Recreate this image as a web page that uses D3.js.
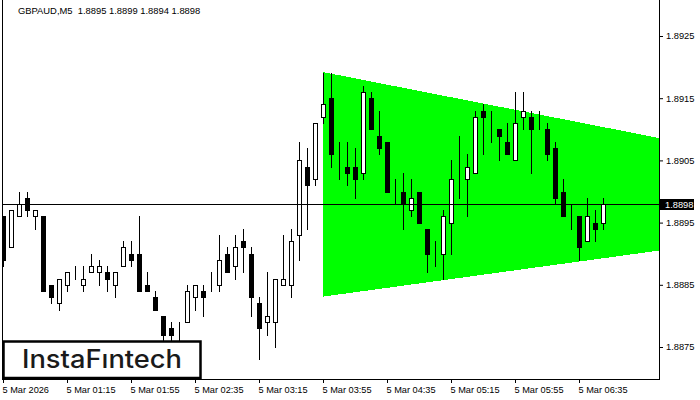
<!DOCTYPE html>
<html><head><meta charset="utf-8">
<script src="https://cdn.jsdelivr.net/npm/d3@7"></script>
<style>html,body{margin:0;padding:0;background:#fff;overflow:hidden}</style>
</head><body>
<svg id="c" width="700" height="400"></svg>
<script>
const headerText = "GBPAUD,M5  1.8895 1.8899 1.8894 1.8898";
const opens  = [1.8896,1.8891,1.8896,1.8899,1.8896,1.8896,1.8885,1.8882,1.8885,1.8886,
                1.8885,1.8887,1.8887,1.8887,1.8885,1.8888,1.8890,1.8890,1.8885,1.8883,
                1.8880,1.8878,1.8878,1.8879,1.8883,1.8884,1.8884,1.8885,1.8890,1.8888,
                1.8892,1.8890,1.8882,1.8879,1.8879,1.8885,1.8885,1.8893,1.8904,1.8902,
                1.8912,1.8915,1.8905,1.8904,1.8904,1.8903,1.8915,1.8909,1.8908,1.8901,
                1.8900,1.8897,1.8900,1.8894,1.8889,1.8890,1.8895,1.8901,1.8902,1.8903,
                1.8913,1.8911,1.8910,1.8908,1.8905,1.8912,1.8912,1.8911,1.8910,1.8907,
                1.8900,1.8897,1.8896,1.8892,1.8895,1.8895];
const highs  = [1.8896,1.8897,1.8900,1.8900,1.8897,1.8896,1.8885,1.8886,1.8887,1.8888,
                1.8888,1.8890,1.8889,1.8888,1.8887,1.8892,1.8892,1.8896,1.8887,1.8884,
                1.8880,1.8879,1.8879,1.8885,1.8885,1.8885,1.8887,1.8893,1.8891,1.8893,
                1.8894,1.8891,1.8883,1.8887,1.8886,1.8893,1.8894,1.8908,1.8907,1.8911,
                1.8919,1.8919,1.8908,1.8908,1.8907,1.8917,1.8916,1.8913,1.8908,1.8902,
                1.8903,1.8902,1.8900,1.8894,1.8892,1.8897,1.8905,1.8909,1.8906,1.8913,
                1.8914,1.8913,1.8910,1.8911,1.8916,1.8916,1.8913,1.8913,1.8911,1.8908,
                1.8902,1.8898,1.8896,1.8899,1.8897,1.8899];
const lows   = [1.8888,1.8891,1.8896,1.8896,1.8894,1.8884,1.8882,1.8881,1.8884,1.8886,
                1.8884,1.8887,1.8885,1.8884,1.8883,1.8888,1.8888,1.8884,1.8884,1.8881,
                1.8876,1.8876,1.8876,1.8879,1.8881,1.8880,1.8884,1.8884,1.8887,1.8886,
                1.8887,1.8880,1.8873,1.8877,1.8875,1.8885,1.8883,1.8889,1.8894,1.8901,
                1.8911,1.8904,1.8902,1.8901,1.8899,1.8902,1.8910,1.8906,1.8900,1.8898,
                1.8894,1.8896,1.8895,1.8887,1.8888,1.8886,1.8890,1.8899,1.8896,1.8903,
                1.8906,1.8908,1.8905,1.8906,1.8905,1.8910,1.8903,1.8910,1.8905,1.8898,
                1.8896,1.8894,1.8889,1.8892,1.8892,1.8894];
const closes = [1.8889,1.8897,1.8898,1.8897,1.8897,1.8884,1.8883,1.8886,1.8887,1.8886,
                1.8886,1.8888,1.8888,1.8886,1.8887,1.8891,1.8889,1.8884,1.8884,1.8881,
                1.8877,1.8877,1.8878,1.8884,1.8885,1.8883,1.8884,1.8889,1.8887,1.8891,
                1.8891,1.8883,1.8878,1.8880,1.8886,1.8886,1.8892,1.8905,1.8901,1.8911,
                1.8914,1.8906,1.8905,1.8903,1.8902,1.8916,1.8910,1.8907,1.8900,1.8901,
                1.8898,1.8899,1.8895,1.8890,1.8889,1.8896,1.8902,1.8901,1.8904,1.8912,
                1.8912,1.8911,1.8909,1.8906,1.8911,1.8913,1.8910,1.8911,1.8906,1.8899,
                1.8896,1.8897,1.8891,1.8896,1.8894,1.8898];
const xTickIndex  = [0, 8, 16, 24, 32, 40, 48, 56, 64, 72];
const xTickLabels = ["5 Mar 2026","5 Mar 01:15","5 Mar 01:55","5 Mar 02:35","5 Mar 03:15",
                     "5 Mar 03:55","5 Mar 04:35","5 Mar 05:15","5 Mar 05:55","5 Mar 06:35"];
const yTicks = [1.8925, 1.8915, 1.8905, 1.8895, 1.8885, 1.8875];
const bidPrice = 1.8898;
const triangleIdx = [40, 82];
const triangleTop = [1.89192, 1.89086];
const triangleBottom = [1.88831, 1.88905];
const logoText = "InstaFıntech";

const svg = d3.select("#c");
const L = 2, R = 659, T = 0, B = 379;
const x = d3.scaleLinear().domain([0, 82]).range([3, 659]);
const y = d3.scaleLinear().domain([1.8875, 1.8925]).range([347, 36]);
const font = "Tahoma, 'Liberation Sans', Arial, sans-serif";

svg.append("defs").append("clipPath").attr("id","plot")
  .append("rect").attr("x", L + 1).attr("y", T).attr("width", R - L - 1).attr("height", B - T);

const plot = svg.append("g").attr("clip-path","url(#plot)");

// triangle pattern
const tri = [
  [x(triangleIdx[0]), y(triangleTop[0])],
  [x(triangleIdx[1]), y(triangleTop[1])],
  [x(triangleIdx[1]), y(triangleBottom[1])],
  [x(triangleIdx[0]), y(triangleBottom[0])]
];
plot.append("polygon").attr("points", tri.map(p => p.join(",")).join(" "))
  .attr("fill", "#00ff00").attr("shape-rendering","crispEdges");

const data = opens.map((o, i) => ({i, o, h: highs[i], l: lows[i], c: closes[i]}));
const cx = d => Math.round(x(d.i)) + 0.5;

const g = plot.append("g").attr("shape-rendering","crispEdges");
g.selectAll("line.w").data(data).join("line").attr("class","w")
  .attr("x1", cx).attr("x2", cx)
  .attr("y1", d => Math.round(y(d.h))).attr("y2", d => Math.round(y(d.l)) + 1)
  .attr("stroke", "#000").attr("stroke-width", 1);
g.selectAll("rect.b").data(data).join("rect").attr("class","b")
  .attr("x", d => cx(d) - 2)
  .attr("y", d => Math.round(y(Math.max(d.o, d.c))) + 0.5)
  .attr("width", 4)
  .attr("height", d => Math.max(0, Math.round(y(Math.min(d.o, d.c))) - Math.round(y(Math.max(d.o, d.c)))))
  .attr("fill", d => d.c >= d.o ? "#fff" : "#000")
  .attr("stroke", "#000").attr("stroke-width", 1);

// bid line
const by = Math.round(y(bidPrice)) + 0.5;
plot.append("line").attr("x1", L).attr("x2", R).attr("y1", by).attr("y2", by)
  .attr("stroke", "#000").attr("stroke-width", 1);

// logo
svg.append("rect").attr("x", 3.5).attr("y", 341.5).attr("width", 197).attr("height", 36.5)
  .attr("fill", "#fff").attr("stroke", "#000").attr("stroke-width", 2.5);
svg.append("text").attr("x", 22).attr("y", 367.5).text(logoText)
  .attr("font-family", "Inter, Lato, sans-serif").attr("font-weight", 500)
  .attr("font-size", 25).attr("fill", "#1a1a1a")
  .attr("textLength", 160).attr("lengthAdjust", "spacingAndGlyphs");

// frame
svg.append("line").attr("x1", L + 0.5).attr("x2", L + 0.5).attr("y1", 0).attr("y2", B)
  .attr("stroke", "#000");
svg.append("line").attr("x1", R + 0.5).attr("x2", R + 0.5).attr("y1", 0).attr("y2", B + 1)
  .attr("stroke", "#000");
svg.append("line").attr("x1", L).attr("x2", R + 1).attr("y1", B + 0.5).attr("y2", B + 0.5)
  .attr("stroke", "#000");

// y axis
const ya = svg.append("g").attr("transform", `translate(${R},0)`)
  .call(d3.axisRight(y).tickValues(yTicks).tickSize(4).tickPadding(3).tickFormat(d3.format(".4f")));
ya.select(".domain").remove();
ya.selectAll("text").attr("font-family", font).attr("font-size", 9.3).attr("fill", "#000");

// x axis
const xa = svg.append("g").attr("transform", `translate(0,${B})`)
  .call(d3.axisBottom(x).tickValues(xTickIndex).tickSize(4).tickFormat((d, i) => xTickLabels[i]));
xa.select(".domain").remove();
xa.selectAll("text").attr("font-family", font).attr("font-size", 9.2).attr("fill", "#000")
  .attr("text-anchor", "start").attr("x", -1).attr("y", 7);

// bid price label
svg.append("rect").attr("x", 660).attr("y", by - 5.5).attr("width", 34).attr("height", 11).attr("fill", "#000");
svg.append("text").attr("x", 665).attr("y", by).attr("dy", "0.35em").text(d3.format(".4f")(bidPrice))
  .attr("font-family", font).attr("font-size", 9.3).attr("fill", "#fff");

// header
svg.append("text").attr("x", 18).attr("y", 14).text(headerText).attr("xml:space","preserve")
  .style("white-space","pre")
  .attr("font-family", font).attr("font-size", 9.4).attr("fill", "#000");
</script>
</body></html>
